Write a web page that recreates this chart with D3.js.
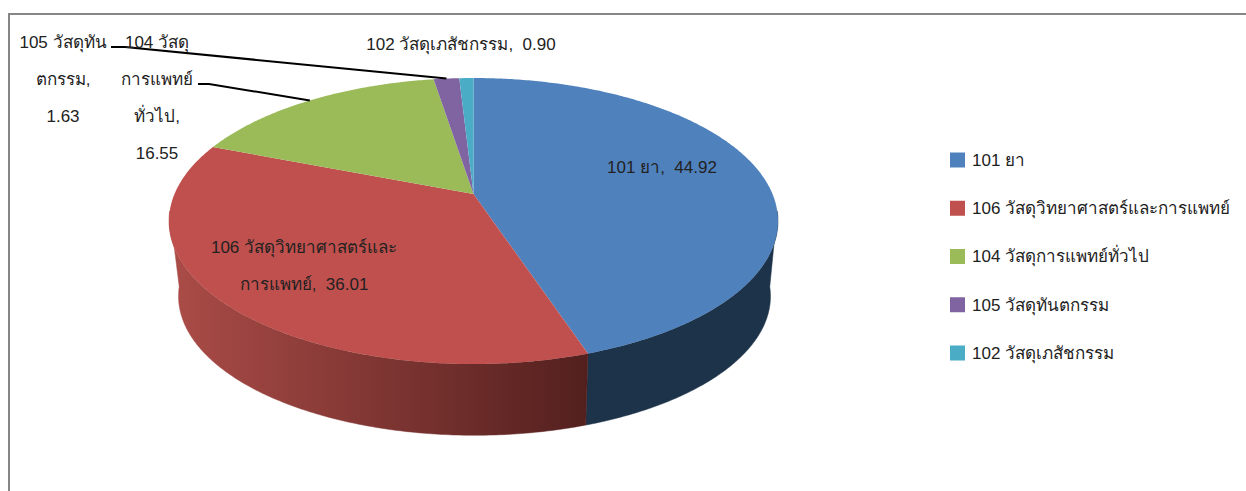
<!DOCTYPE html>
<html>
<head>
<meta charset="utf-8">
<script src="https://cdn.jsdelivr.net/npm/d3@7"></script>
<style>
  html, body { margin: 0; padding: 0; background: #fff; }
  text { font-family: "Liberation Sans", Arial, "Noto Sans", sans-serif; font-size: 17px; fill: #222; }
</style>
</head>
<body>
<div id="chart"></div>
<script>
// values
const categories = ['101 ยา', '106 วัสดุวิทยาศาสตร์และการแพทย์', '104 วัสดุการแพทย์ทั่วไป', '105 วัสดุทันตกรรม', '102 วัสดุเภสัชกรรม'];
const values = [44.92, 36.01, 16.55, 1.63, 0.90];
const colors = ['#4f81bd', '#c0504d', '#9bbb59', '#8064a2', '#4bacc6'];

const width = 1246;
const height = 491;

const svg = d3.select('#chart').append('svg')
    .attr('width', width)
    .attr('height', height)
    .style('display', 'block');

// Chart frame, right and bottom run off the picture
svg.append('path')
    .attr('d', `M9,${height}V14H${width}`)
    .attr('fill', 'none')
    .attr('stroke', '#868686')
    .attr('stroke-width', 2);

// Perspective pie: unit circle (u, v) seen from the front, v > 0 is near the viewer
const centerX = 473.5;
const centerY = 194;
const radiusX = 299;
const radiusY = 137.9;
const tilt = 0.189;
const depth = 76;
const bottomScale = 0.972;
const bottomShift = 1;

function project(angle, level) {
    const u = Math.sin(angle);
    const v = -Math.cos(angle);
    const w = 1 - tilt * v;
    const s = level ? bottomScale : 1;
    return [
        centerX + (level ? bottomShift : 0) + s * radiusX * u / w,
        centerY + (level ? depth : 0) + s * radiusY * v / w
    ];
}

function arcPoints(a0, a1, level) {
    const n = Math.max(2, Math.ceil(Math.abs(a1 - a0) / 0.01));
    return d3.range(n + 1).map(i => project(a0 + (a1 - a0) * i / n, level));
}

const line = d3.line();
const pie = d3.pie().value(d => d).sort(null);
const slices = pie(values);

// Side wall, only the part facing the viewer
const wallStart = 97 * Math.PI / 180;
const wallEnd = 263 * Math.PI / 180;

const defs = svg.append('defs');
const wallGradient = defs.append('linearGradient')
    .attr('id', 'red-wall')
    .attr('gradientUnits', 'userSpaceOnUse')
    .attr('x1', 176).attr('x2', 587)
    .attr('y1', 0).attr('y2', 0);
wallGradient.append('stop').attr('offset', 0).attr('stop-color', '#aa4b47');
wallGradient.append('stop').attr('offset', 1).attr('stop-color', '#53201e');

const wallFill = ['#1d3349', 'url(#red-wall)'];

slices.forEach((d, i) => {
    const a0 = Math.max(d.startAngle, wallStart);
    const a1 = Math.min(d.endAngle, wallEnd);
    if (a1 <= a0) return;
    const pts = arcPoints(a0, a1, 0).concat(arcPoints(a1, a0, 1));
    svg.append('path')
        .attr('d', line(pts) + 'Z')
        .attr('fill', wallFill[i])
        .attr('stroke', wallFill[i])
        .attr('stroke-width', 0.5);
});

// Top surface
svg.selectAll('path.slice')
    .data(slices)
    .enter().append('path')
    .attr('class', 'slice')
    .attr('d', d => line([[centerX, centerY]].concat(arcPoints(d.startAngle, d.endAngle, 0))) + 'Z')
    .attr('fill', (d, i) => colors[i]);

// Leader lines
const leaders = [
    { slice: 3, x0: 111, x1: 125, y: 47 },
    { slice: 2, x0: 198, x1: 209, y: 84 }
];

svg.selectAll('path.leader')
    .data(leaders)
    .enter().append('path')
    .attr('class', 'leader')
    .attr('d', d => {
        const s = slices[d.slice];
        return line([[d.x0, d.y], [d.x1, d.y], project((s.startAngle + s.endAngle) / 2, 0)]);
    })
    .attr('fill', 'none')
    .attr('stroke', '#000')
    .attr('stroke-width', 2);

// Data labels, wrapped like the original
const labels = [
    { x: 662, y: 167, lines: ['101 ยา,  44.92'] },
    { x: 304, y: 247, lines: ['106 วัสดุวิทยาศาสตร์และ', 'การแพทย์,  36.01'] },
    { x: 157, y: 42, lines: ['104 วัสดุ', 'การแพทย์', 'ทั่วไป,', '16.55'] },
    { x: 63, y: 42, lines: ['105 วัสดุทัน', 'ตกรรม,', '1.63'] },
    { x: 461, y: 44, lines: ['102 วัสดุเภสัชกรรม,  0.90'] }
];

labels.forEach(l => {
    const t = svg.append('text')
        .attr('text-anchor', 'middle')
        .style('white-space', 'pre');
    l.lines.forEach((s, i) => {
        t.append('tspan')
            .attr('x', l.x)
            .attr('y', l.y + i * 37)
            .attr('dy', '0.35em')
            .text(s);
    });
});

// Legend
const legendY = d3.scalePoint().domain(categories).range([160, 353]);

const legendItems = svg.selectAll('.legend-item')
    .data(categories)
    .enter().append('g')
    .attr('class', 'legend-item')
    .attr('transform', d => `translate(950, ${legendY(d)})`);

legendItems.append('rect')
    .attr('y', -7.5)
    .attr('width', 15)
    .attr('height', 15)
    .attr('fill', (d, i) => colors[i]);

legendItems.append('text')
    .attr('x', 22)
    .attr('dy', '0.35em')
    .text(d => d);
</script>
</body>
</html>
